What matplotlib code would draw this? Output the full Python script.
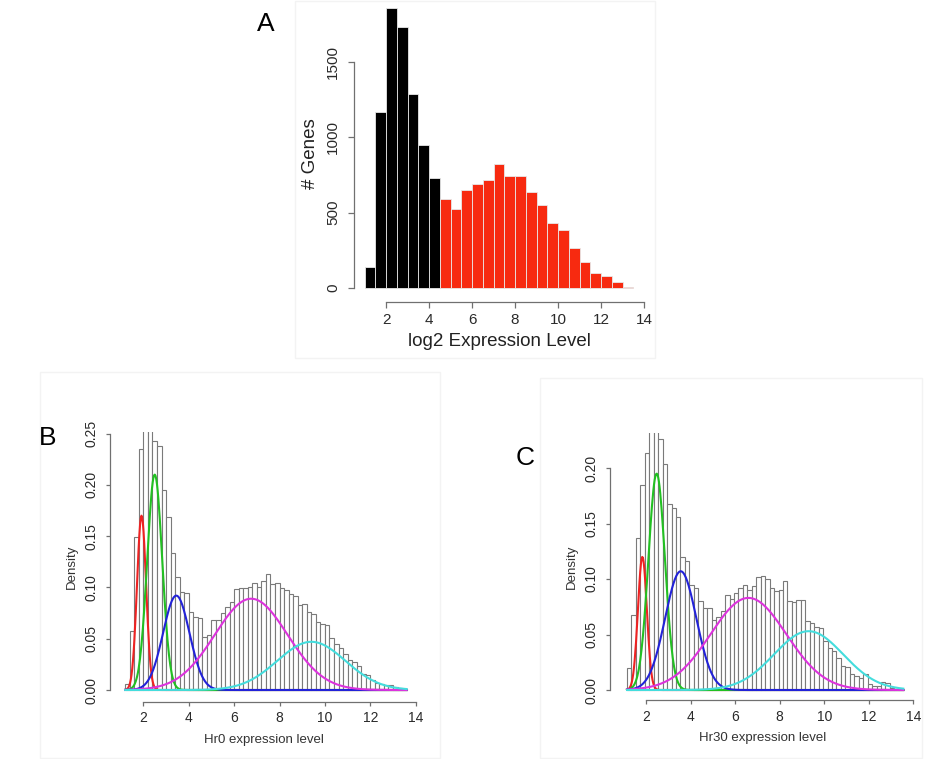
import numpy as np
import matplotlib.pyplot as plt
from matplotlib.patches import Rectangle

plt.rcParams['font.family'] = ['Liberation Sans', 'DejaVu Sans']

# ---- panel A: counts per 0.5 bin, starting at 1.0 ----
a_bin_start = 1.0
a_bin_width = 0.5
a_counts = [140, 1167, 1860, 1733, 1289, 951, 733,
            589, 522, 651, 693, 716, 822, 744, 744, 638, 551, 429, 382,
            267, 173, 100, 78, 38, 7]
a_n_low = 7  # first bins drawn in black, the rest in red
a_xticks = [2, 4, 6, 8, 10, 12, 14]
a_yticks = [0, 500, 1000, 1500]

# ---- panel B: Hr0 density histogram (0.2 bins from 1.2) ----
b_bin_start = 1.2
b_bin_width = 0.2
b_density = [0.006, 0.058, 0.149, 0.235, 0.300, 0.280, 0.243, 0.238, 0.195, 0.169,
             0.134, 0.110, 0.096, 0.095, 0.076, 0.071, 0.070, 0.052, 0.054, 0.068,
             0.068, 0.075, 0.081, 0.086, 0.098, 0.099, 0.099, 0.100, 0.104, 0.100,
             0.106, 0.113, 0.103, 0.104, 0.099, 0.097, 0.094, 0.092, 0.083, 0.084,
             0.076, 0.074, 0.066, 0.064, 0.063, 0.051, 0.045, 0.041, 0.035, 0.029,
             0.027, 0.023, 0.016, 0.015, 0.010, 0.007, 0.006, 0.005, 0.005, 0.003,
             0.002, 0.001]
# mixture components: mean, sd, peak height
b_means = [1.92, 2.50, 3.45, 6.75, 9.40]
b_sds = [0.20, 0.33, 0.58, 1.60, 1.50]
b_peaks = [0.170, 0.210, 0.092, 0.089, 0.047]

# ---- panel C: Hr30 density histogram ----
c_bin_start = 1.15
c_bin_width = 0.2
c_density = [0.020, 0.068, 0.137, 0.185, 0.214, 0.260, 0.260, 0.226, 0.204, 0.168,
             0.164, 0.156, 0.120, 0.116, 0.095, 0.092, 0.080, 0.074, 0.074, 0.063,
             0.066, 0.071, 0.086, 0.082, 0.087, 0.092, 0.095, 0.090, 0.094, 0.102,
             0.103, 0.100, 0.092, 0.089, 0.090, 0.098, 0.080, 0.079, 0.081, 0.081,
             0.062, 0.060, 0.057, 0.056, 0.044, 0.038, 0.035, 0.029, 0.022, 0.021,
             0.014, 0.013, 0.011, 0.014, 0.005, 0.004, 0.004, 0.007, 0.006, 0.002,
             0.001, 0.001]
c_means = [1.84, 2.48, 3.56, 6.60, 9.30]
c_sds = [0.20, 0.37, 0.70, 1.70, 1.55]
c_peaks = [0.120, 0.195, 0.107, 0.083, 0.053]

comp_colors = ['#ee2222', '#22c022', '#2222d8', '#dd33dd', '#44dddd']
bc_xticks = [2, 4, 6, 8, 10, 12, 14]

W, H = 927, 759
fig = plt.figure(figsize=(W / 100, H / 100), dpi=100)


def px_axes(left, top, right, bottom):
    return fig.add_axes([left / W, 1 - bottom / H, (right - left) / W, (bottom - top) / H])


def r_style(ax, xticks, yticks, ylabels, size, tick_len, xpad, ypad):
    for s in ['top', 'right']:
        ax.spines[s].set_visible(False)
    for s in ['left', 'bottom']:
        ax.spines[s].set_color('#707070')
        ax.spines[s].set_linewidth(0.9)
    ax.spines['bottom'].set_bounds(xticks[0], xticks[-1])
    ax.spines['left'].set_bounds(yticks[0], yticks[-1])
    ax.set_xticks(xticks)
    ax.set_xticklabels([str(t) for t in xticks])
    ax.set_yticks(yticks)
    ax.set_yticklabels(ylabels, rotation=90, va='center')
    ax.tick_params(axis='both', colors='#707070', labelcolor='#2a2a2a',
                   labelsize=size, length=tick_len, width=0.9)
    ax.tick_params(axis='x', pad=xpad)
    ax.tick_params(axis='y', pad=ypad)


def density_panel(ax, start, width, dens, means, sds, peaks, ylim, xlim):
    lefts = start + width * np.arange(len(dens))
    ax.bar(lefts, dens, width=width, align='edge', facecolor='white',
           edgecolor='#7a7a7a', linewidth=0.8, clip_on=True)
    xs = np.linspace(start, lefts[-1] + width, 400)
    for m, s, p, col in zip(means, sds, peaks, comp_colors):
        ax.plot(xs, p * np.exp(-0.5 * ((xs - m) / s) ** 2), color=col, lw=1.5)
    ax.set_xlim(*xlim)
    ax.set_ylim(*ylim)


# panel frames (pasted images)
for (l, t, r, b) in [(295, 1, 655, 358), (40, 372, 440, 758), (540, 378, 922, 758)]:
    fig.patches.append(Rectangle((l / W, 1 - b / H), (r - l) / W, (b - t) / H,
                                 transform=fig.transFigure, fill=False,
                                 edgecolor='#f3f3f3', lw=1))

# ---- A ----
axA = px_axes(354, 5, 644, 302)
a_lefts = a_bin_start + a_bin_width * np.arange(len(a_counts))
a_colors = ['black'] * a_n_low + ['#f72a10'] * (len(a_counts) - a_n_low)
axA.bar(a_lefts, a_counts, width=a_bin_width, align='edge', color=a_colors,
        edgecolor='#e8e8e8', linewidth=0.6)
axA.set_xlim(0.5, 14.0)
axA.set_ylim(-93, 1878)
r_style(axA, a_xticks, a_yticks, [str(t) for t in a_yticks], 11, 4, 4, 6)
axA.set_xlabel('log2 Expression Level', fontsize=13.5, color='#222222', labelpad=4)
axA.set_ylabel('# Genes', fontsize=13.5, color='#222222', labelpad=5)
fig.text(266 / W, 1 - 24 / H, 'A', fontsize=19, ha='center', va='center')

# ---- B ----
axB = px_axes(110, 432, 418, 701.7)
density_panel(axB, b_bin_start, b_bin_width, b_density, b_means, b_sds, b_peaks,
              (-0.0114, 0.2515), (0.53, 14.1))
b_yticks = [0.0, 0.05, 0.10, 0.15, 0.20, 0.25]
r_style(axB, bc_xticks, b_yticks, ['%.2f' % t for t in b_yticks], 10, 3, 4, 5)
axB.set_xlabel('Hr0 expression level', fontsize=9.5, color='#333333', labelpad=6)
axB.set_ylabel('Density', fontsize=9.5, color='#333333', labelpad=5)
fig.text(48 / W, 1 - 438 / H, 'B', fontsize=19, ha='center', va='center')

# ---- C ----
axC = px_axes(610, 433, 916, 700)
density_panel(axC, c_bin_start, c_bin_width, c_density, c_means, c_sds, c_peaks,
              (-0.009, 0.2316), (0.386, 14.12))
c_yticks = [0.0, 0.05, 0.10, 0.15, 0.20]
r_style(axC, bc_xticks, c_yticks, ['%.2f' % t for t in c_yticks], 10, 3, 4, 5)
axC.set_xlabel('Hr30 expression level', fontsize=9.5, color='#333333', labelpad=6)
axC.set_ylabel('Density', fontsize=9.5, color='#333333', labelpad=5)
fig.text(525 / W, 1 - 458 / H, 'C', fontsize=19, ha='center', va='center')

fig.savefig('out.png', dpi=100)
